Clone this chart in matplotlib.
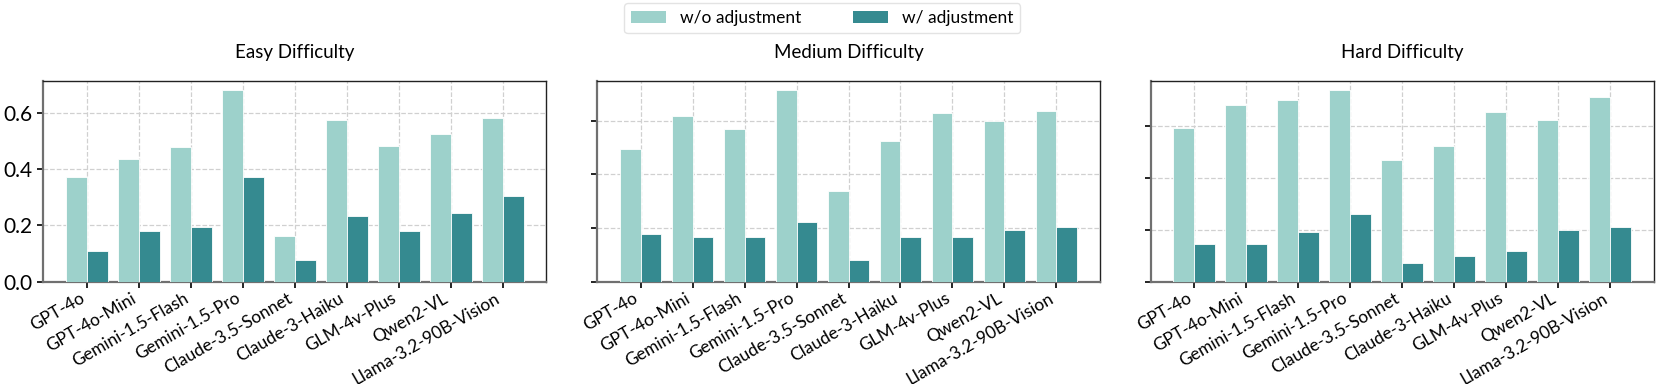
import numpy as np
import matplotlib.pyplot as plt
from matplotlib.patches import Patch

plt.rcParams['font.family'] = ['Lato', 'DejaVu Sans']

models = ['GPT-4o', 'GPT-4o-Mini', 'Gemini-1.5-Flash', 'Gemini-1.5-Pro',
          'Claude-3.5-Sonnet', 'Claude-3-Haiku', 'GLM-4v-Plus', 'Qwen2-VL',
          'Llama-3.2-90B-Vision']
titles = ['Easy Difficulty', 'Medium Difficulty', 'Hard Difficulty']

# w/o adjustment
easy_wo = [0.371, 0.435, 0.480, 0.681, 0.163, 0.575, 0.483, 0.526, 0.584]
medium_wo = [0.493, 0.616, 0.570, 0.713, 0.339, 0.523, 0.630, 0.598, 0.634]
hard_wo = [0.595, 0.684, 0.703, 0.739, 0.471, 0.525, 0.654, 0.623, 0.715]
# w/ adjustment
easy_w = [0.111, 0.182, 0.196, 0.373, 0.077, 0.234, 0.182, 0.245, 0.304]
medium_w = [0.176, 0.167, 0.167, 0.223, 0.081, 0.167, 0.167, 0.192, 0.205]
hard_w = [0.146, 0.146, 0.190, 0.261, 0.071, 0.101, 0.120, 0.200, 0.213]

wo_all = [easy_wo, medium_wo, hard_wo]
w_all = [easy_w, medium_w, hard_w]

c_light = '#9dd1cb'
c_dark = '#358a90'

fig, axes = plt.subplots(1, 3, figsize=(16.61, 3.84), dpi=100)
plt.subplots_adjust(left=0.0261, right=0.9956, bottom=0.2664, top=0.7898, wspace=0.1004)

x = np.arange(len(models))
bw = 0.4
for i, ax in enumerate(axes):
    wo = np.array(wo_all[i])
    w = np.array(w_all[i])
    ax.bar(x - bw / 2, wo, bw, color=c_light, edgecolor='white', linewidth=0.6, zorder=3)
    ax.bar(x + bw / 2, w, bw, color=c_dark, edgecolor='white', linewidth=0.6, zorder=3)
    ax.set_ylim(0, max(wo.max(), w.max()) * 1.05)
    ax.set_yticks([0.0, 0.2, 0.4, 0.6])
    ax.set_xticks(x)
    ax.set_xticklabels(models, rotation=30, ha='right', fontsize=12.5)
    ax.set_title(titles[i], fontsize=13.5, pad=16)
    ax.grid(True, linestyle='--', color='#d0d0d0', linewidth=0.9, zorder=0)
    ax.tick_params(axis='y', labelsize=15, length=4, width=1.2)
    ax.tick_params(axis='x', length=4, width=1.2, pad=2)
    if i > 0:
        ax.set_yticklabels([])
    for s in ['left', 'bottom']:
        ax.spines[s].set_color('#707070')
        ax.spines[s].set_linewidth(1.6)
    for s in ['top', 'right']:
        ax.spines[s].set_color('#222222')
        ax.spines[s].set_linewidth(1.0)

handles = [Patch(facecolor=c_light, label='w/o adjustment'),
           Patch(facecolor=c_dark, label='w/ adjustment')]
fig.legend(handles=handles, loc='upper center', bbox_to_anchor=(0.495, 1.0), ncol=2,
           fontsize=12.5, frameon=True, edgecolor='#dddddd', handlelength=2.0,
           columnspacing=3.0, borderaxespad=0.2)

plt.savefig('out.png', dpi=100)
